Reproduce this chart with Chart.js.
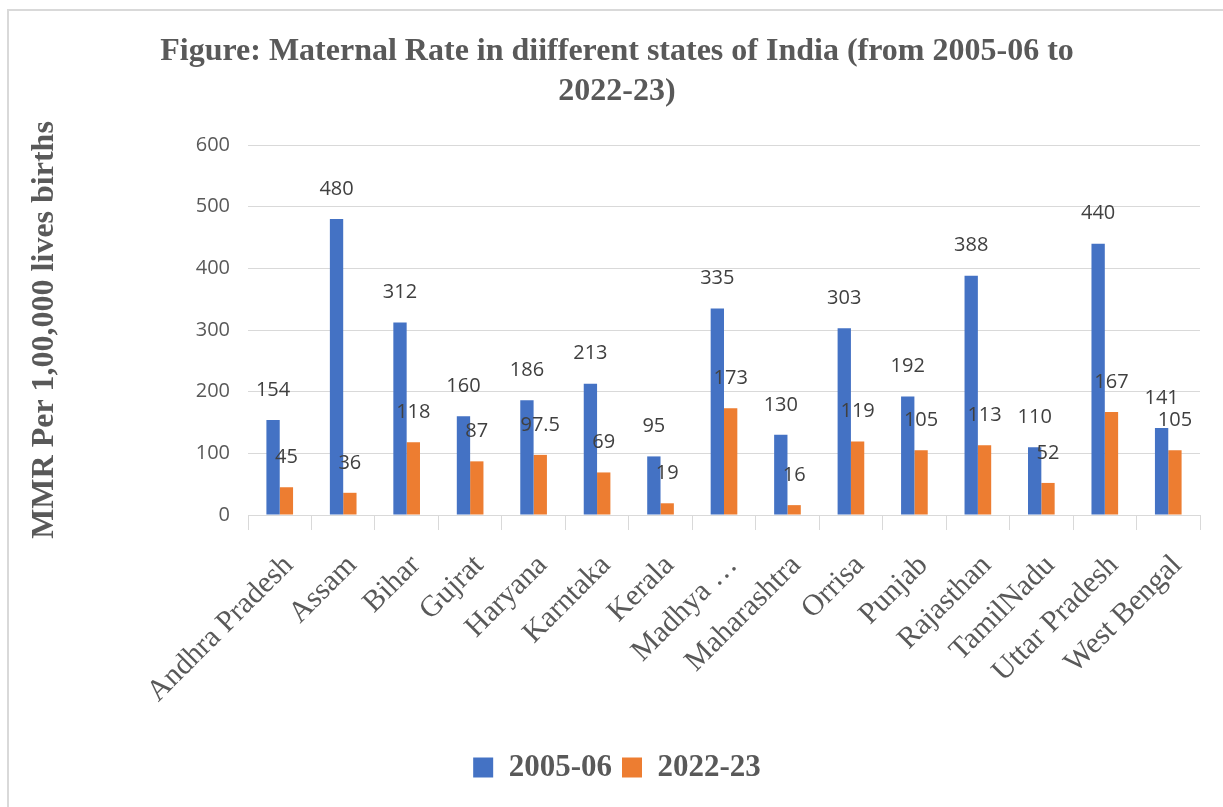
<!DOCTYPE html>
<html>
<head>
<meta charset="utf-8">
<title>Maternal Rate in different states of India</title>
<script src="https://cdn.jsdelivr.net/npm/chart.js@4"></script>
<style>
  html, body { margin: 0; padding: 0; background: #fff; }
  #wrap { width: 1223px; height: 807px; position: relative; }
</style>
</head>
<body>
<div id="wrap"><canvas id="mmrChart"></canvas></div>
<script>
const states = ["Andhra Pradesh", "Assam", "Bihar", "Gujrat", "Haryana", "Karntaka", "Kerala",
  "Madhya Pradesh", "Maharashtra", "Orrisa", "Punjab", "Rajasthan", "TamilNadu", "Uttar Pradesh", "West Bengal"];
const mmr2005 = [154, 480, 312, 160, 186, 213, 95, 335, 130, 303, 192, 388, 110, 440, 141];
const mmr2022 = [45, 36, 118, 87, 97.5, 69, 19, 173, 16, 119, 105, 113, 52, 167, 105];
const yTicks = [0, 100, 200, 300, 400, 500, 600];

const gray = "#595959";
const serif = "'Liberation Serif', 'Times New Roman', serif";
const sans = "'Open Sans', 'Liberation Sans', sans-serif";

// Madhya Pradesh does not fit the slot, so it is cut to "Madhya …"
function shortLabel(s) {
  return s.startsWith("Madhya") ? "Madhya \u2026" : s;
}

const framePlugin = {
  id: "frame",
  beforeDraw(chart) {
    const c = chart.ctx;
    c.save();
    c.fillStyle = "#fff";
    c.fillRect(0, 0, chart.width, chart.height);
    c.strokeStyle = "#d9d9d9";
    c.lineWidth = 2;
    c.beginPath();
    c.moveTo(8, chart.height);
    c.lineTo(8, 10);
    c.lineTo(chart.width, 10);
    c.stroke();
    c.restore();
  }
};

const valueLabels = {
  id: "valueLabels",
  afterDatasetsDraw(chart) {
    const c = chart.ctx;
    c.save();
    c.font = "20px " + sans;
    c.fillStyle = "#404040";
    c.textAlign = "center";
    c.textBaseline = "middle";
    chart.data.datasets.forEach((ds, i) => {
      chart.getDatasetMeta(i).data.forEach((bar, j) => {
        c.fillText(String(ds.data[j]), bar.x, bar.y - 30);
      });
    });
    c.restore();
  }
};

new Chart(document.getElementById("mmrChart"), {
  type: "bar",
  data: {
    labels: states.map(shortLabel),
    datasets: [
      { label: "2005-06", data: mmr2005, backgroundColor: "#4472C4" },
      { label: "2022-23", data: mmr2022, backgroundColor: "#ED7D31" }
    ]
  },
  options: {
    responsive: true,
    maintainAspectRatio: false,
    animation: false,
    categoryPercentage: 0.42,
    barPercentage: 1.0,
    // wider left padding keeps title and legend centred a bit right of the middle
    layout: { padding: { left: 34, right: 23, top: 8, bottom: 14 } },
    plugins: {
      tooltip: { enabled: false },
      title: {
        display: true,
        text: ["Figure: Maternal Rate in diifferent states of India (from 2005-06 to", "2022-23)"],
        color: gray,
        font: { family: serif, size: 32, weight: "bold", lineHeight: 1.25 },
        padding: { top: 24, bottom: 33 }
      },
      legend: {
        position: "bottom",
        labels: {
          color: gray,
          font: { family: serif, size: 31, weight: "bold" },
          boxWidth: 20,
          boxHeight: 20,
          padding: 10
        }
      }
    },
    scales: {
      x: {
        grid: { display: true, drawOnChartArea: false, color: "#d9d9d9", tickLength: 15, offset: true },
        border: { color: "#d9d9d9" },
        ticks: {
          color: gray,
          font: { family: serif, size: 30 },
          maxRotation: 45,
          minRotation: 45,
          autoSkip: false,
          padding: 18,
          labelOffset: 9
        },
        afterFit(scale) { scale.height = 227; }
      },
      y: {
        min: 0,
        max: 600,
        afterBuildTicks(scale) { scale.ticks = yTicks.map(v => ({ value: v })); },
        grid: { color: "#d9d9d9", drawTicks: false },
        border: { display: false },
        ticks: { color: gray, font: { family: sans, size: 20 }, padding: 18 },
        title: {
          display: true,
          text: "MMR Per 1,00,000 lives births",
          color: gray,
          font: { family: serif, size: 32, weight: "bold" },
          padding: { top: -8, bottom: 0 }
        },
        afterFit(scale) { scale.width = 214; }
      }
    }
  },
  plugins: [framePlugin, valueLabels]
});
</script>
</body>
</html>
